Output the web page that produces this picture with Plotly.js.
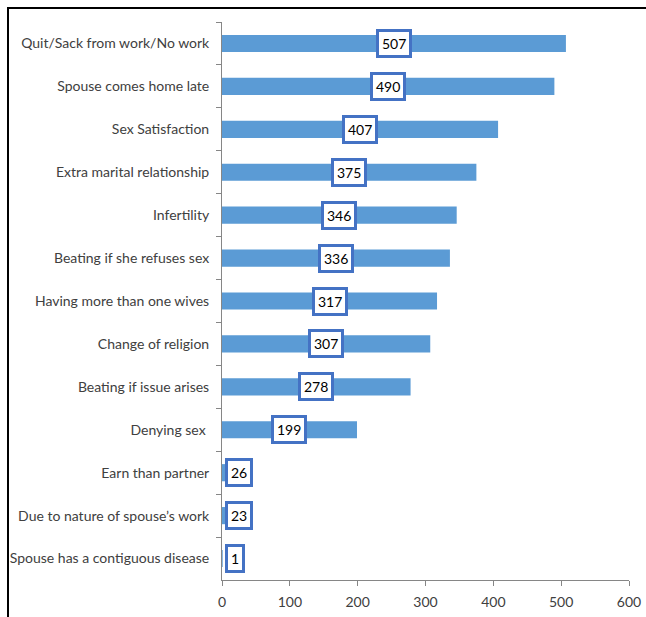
<!DOCTYPE html>
<html>
<head>
<meta charset="utf-8">
<script src="https://cdn.plot.ly/plotly-3.0.1.min.js"></script>
<style>
  html, body { margin: 0; padding: 0; background: #fff; }
  #chart { width: 646px; height: 617px; position: relative; }
  #frame { position: absolute; left: 7px; top: 7px; width: 650px; height: 620px;
           border-top: 2px solid #000; border-left: 2px solid #000; pointer-events: none; z-index: 10; }
</style>
</head>
<body>
<div id="chart"></div>
<div id="frame"></div>
<script>
const categories = [
  "Quit/Sack from work/No work",
  "Spouse comes home late",
  "Sex Satisfaction",
  "Extra marital relationship",
  "Infertility",
  "Beating if she refuses sex",
  "Having more than one wives",
  "Change of religion",
  "Beating if issue arises",
  "Denying sex ",
  "Earn than partner",
  "Due to nature of spouse\u2019s work",
  "Spouse has a contiguous disease"
];
const values = [507, 490, 407, 375, 346, 336, 317, 307, 278, 199, 26, 23, 1];
const xTicks = [0, 100, 200, 300, 400, 500, 600];

const FONT = "Lato, 'Liberation Sans', sans-serif";

const annotations = values.map((v, i) => {
  const small = v < 60;
  return {
    x: small ? 0 : v / 2,
    y: categories[i],
    xref: 'x', yref: 'y',
    text: String(v),
    showarrow: false,
    xanchor: small ? 'left' : 'center',
    xshift: small ? 3 : 0,
    font: { family: FONT, size: 14, color: '#000' },
    bgcolor: '#ffffff',
    bordercolor: '#4472C4',
    borderwidth: 3,
    borderpad: 3
  };
});

const trace = {
  type: 'bar',
  orientation: 'h',
  x: values,
  y: categories,
  marker: { color: '#5B9BD5' },
  hoverinfo: 'none'
};

const layout = {
  width: 646, height: 617,
  margin: { l: 222, r: 17, t: 22, b: 37 },
  paper_bgcolor: '#fff', plot_bgcolor: '#fff',
  bargap: 0.6,
  showlegend: false,
  font: { family: FONT, size: 14, color: '#404040' },
  xaxis: {
    range: [0, 600],
    tickvals: xTicks,
    ticktext: xTicks.map(String),
    showgrid: false, zeroline: false,
    showline: true, linecolor: '#868686', linewidth: 1,
    ticks: 'outside', ticklen: 5, tickcolor: '#868686',
    ticklabelstandoff: 4,
    tickfont: { family: FONT, size: 14, color: '#404040' },
    fixedrange: true
  },
  yaxis: {
    autorange: 'reversed',
    type: 'category',
    showgrid: false, zeroline: false,
    showline: true, linecolor: '#868686', linewidth: 1,
    ticks: 'outside', ticklen: 5, tickcolor: '#868686',
    tickson: 'boundaries',
    ticklabelstandoff: 9,
    tickfont: { family: FONT, size: 14, color: '#404040' },
    fixedrange: true
  },
  annotations: annotations
};

Plotly.newPlot('chart', [trace], layout, { displayModeBar: false, staticPlot: true });
</script>
</body>
</html>
